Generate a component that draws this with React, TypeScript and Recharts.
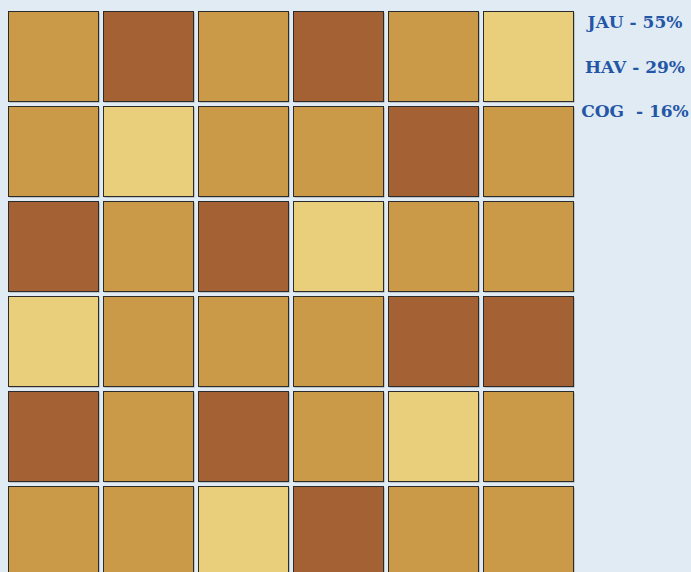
import { ScatterChart, Scatter, XAxis, YAxis } from "recharts";

const categories = ["JAU", "HAV", "COG"];
const shares = [55, 29, 16];
const legendLabels = ["JAU - 55%", "HAV - 29%", "COG  - 16%"];

// grid of category codes, top row first
const gridRows = [
  ["JAU", "HAV", "JAU", "HAV", "JAU", "COG"],
  ["JAU", "COG", "JAU", "JAU", "HAV", "JAU"],
  ["HAV", "JAU", "HAV", "COG", "JAU", "JAU"],
  ["COG", "JAU", "JAU", "JAU", "HAV", "HAV"],
  ["HAV", "JAU", "HAV", "JAU", "COG", "JAU"],
  ["JAU", "JAU", "COG", "HAV", "JAU", "JAU"],
];

const colors: Record<string, string> = {
  JAU: "#ca9a48",
  HAV: "#a46134",
  COG: "#e9cf7b",
};

const cells = gridRows.flatMap((row, r) =>
  row.map((cat, c) => ({ col: c, row: r, cat }))
);

const CELL = 90;

function Square(props: any) {
  const { cx, cy, fill } = props;
  if (cx == null || cy == null) return null;
  const x = cx - CELL / 2;
  const y = cy - CELL / 2;
  return (
    <g>
      <rect x={x + 1} y={y + 1} width={CELL} height={CELL} fill="#6b6b6b" opacity={0.6} />
      <rect x={x} y={y} width={CELL} height={CELL} fill={fill} stroke="#2b2b2b" strokeWidth={1} />
    </g>
  );
}

function LegendBox() {
  return (
    <div
      style={{
        position: "absolute",
        left: 580,
        top: 10,
        width: 110,
        fontFamily: "'DejaVu Serif', serif",
        fontWeight: "bold",
        fontSize: 17,
        color: "#2456a6",
        textAlign: "center",
        whiteSpace: "pre",
      }}
    >
      {legendLabels.map((label, i) => (
        <div key={categories[i]} style={{ height: 44.5, lineHeight: "24px" }} title={`${shares[i]}%`}>
          {label}
        </div>
      ))}
    </div>
  );
}

export default function App() {
  return (
    <div
      style={{
        position: "fixed",
        left: 0,
        top: 0,
        width: 691,
        height: 572,
        overflow: "hidden",
        background: "#e0ebf4",
      }}
    >
      <ScatterChart
        width={691}
        height={580}
        margin={{ top: 9, right: 115, bottom: 1, left: 6 }}
      >
        <XAxis type="number" dataKey="col" domain={[-0.5, 5.5]} hide />
        <YAxis type="number" dataKey="row" domain={[-0.5, 5.5]} reversed hide />
        {categories.map((cat) => (
          <Scatter
            key={cat}
            name={cat}
            data={cells.filter((d) => d.cat === cat)}
            fill={colors[cat]}
            shape={<Square />}
            isAnimationActive={false}
          />
        ))}
      </ScatterChart>
      <LegendBox />
    </div>
  );
}
